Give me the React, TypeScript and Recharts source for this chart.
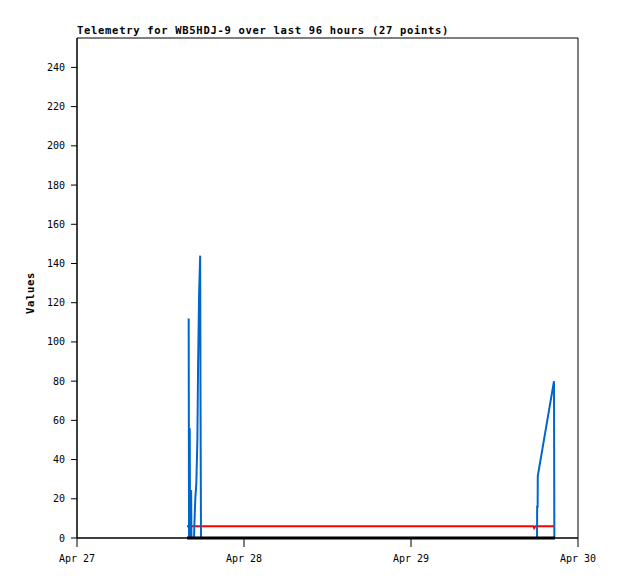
import { LineChart, Line, XAxis, YAxis, ReferenceArea } from 'recharts';

// hours since Apr 27 00:00
const blueHours = [16.05, 16.1, 16.2, 16.25, 16.4, 16.45, 16.82, 16.88, 17.0, 17.15, 17.3, 17.4, 17.55, 17.7, 17.75, 17.82, 66.11, 66.13, 66.2, 66.22, 68.55, 68.6];
const blueValues = [112, 0, 56, 0, 24.5, 0, 0, 8, 20, 28, 50, 88, 125, 144, 72, 0, 0, 16, 16, 31.6, 80, 0];

const redHours = [15.81, 65.6, 65.7, 65.9, 68.62];
const redValues = [6, 6, 5, 6, 6];

const blackHours = [15.81, 68.69];
const blackValues = [0, 0];

const xTicks = [0, 24, 48, 72];
const xTickLabels = ['Apr 27', 'Apr 28', 'Apr 29', 'Apr 30'];
const yTicks = [0, 20, 40, 60, 80, 100, 120, 140, 160, 180, 200, 220, 240];

const title = 'Telemetry for WB5HDJ-9 over last 96 hours (27 points)';
const yLabel = 'Values';

const mono = '"DejaVu Sans Mono", monospace';

const toRows = (hours: number[], values: number[]) => hours.map((h, i) => ({ h, v: values[i] }));

const App = () => {
    const blueData = toRows(blueHours, blueValues);
    const redData = toRows(redHours, redValues);
    const blackData = toRows(blackHours, blackValues);

    return (
        <div style={{ position: 'absolute', left: 0, top: 0, width: 618, height: 579, background: '#fff' }}>
            <LineChart width={618} height={579} margin={{ top: 38, right: 40, bottom: 0, left: 0 }}>
                <XAxis
                    dataKey="h"
                    type="number"
                    domain={[0, 72]}
                    ticks={xTicks}
                    tickFormatter={(v: number) => xTickLabels[xTicks.indexOf(v)] ?? ''}
                    height={41}
                    tickSize={9}
                    tickMargin={8}
                    stroke="#000"
                    tick={{ fill: '#000', fontSize: 10, fontFamily: mono }}
                    label={{
                        content: () => (
                            <text x={77} y={34} fontFamily={mono} fontSize={10.5} fontWeight="bold" letterSpacing={0.7} fill="#000">
                                {title}
                            </text>
                        ),
                    }}
                />
                <YAxis
                    type="number"
                    domain={[0, 255]}
                    ticks={yTicks}
                    width={77}
                    tickSize={6}
                    tickMargin={6}
                    stroke="#000"
                    tick={{ fill: '#000', fontSize: 10, fontFamily: mono }}
                    label={{
                        content: () => (
                            <text x={34} y={293} transform="rotate(-90 34 293)" textAnchor="middle" fontFamily={mono} fontSize={10.5} fontWeight="bold" letterSpacing={0.7} fill="#000">
                                {yLabel}
                            </text>
                        ),
                    }}
                />
                <ReferenceArea x1={0} x2={72} y1={0} y2={255} fill="none" stroke="#000" strokeWidth={1} />
                <Line data={redData} dataKey="v" type="linear" stroke="#ff0000" strokeWidth={2} dot={false} isAnimationActive={false} />
                <Line data={blueData} dataKey="v" type="linear" stroke="#0066cc" strokeWidth={2} dot={false} isAnimationActive={false} />
                <Line data={blackData} dataKey="v" type="linear" stroke="#000" strokeWidth={3} dot={false} isAnimationActive={false} />
            </LineChart>
        </div>
    );
};

export default App;
